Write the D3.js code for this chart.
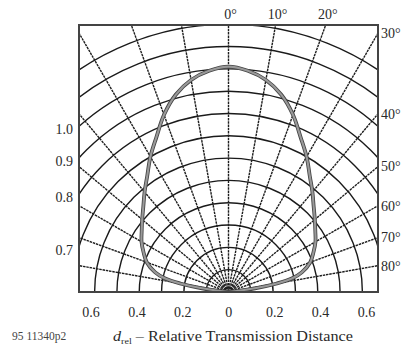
<!DOCTYPE html>
<html><head><meta charset="utf-8">
<script src="https://cdn.jsdelivr.net/npm/d3@7"></script>
<style>
body{margin:0;background:#fff}
svg{display:block}
text{font-family:"Liberation Serif","Times New Roman",serif;fill:#2a2a2a}
</style>
</head><body>
<svg id="c" width="401" height="349"></svg>
<script>
// ---- data ----
const curveAngles = [-84,-82,-80,-78,-75,-70,-65,-60,-55,-50,-45,-40,-35,-30,-25,-20,-15,-10,-5,0,5,10,15,20,25,30,35,40,45,50,55,60,65,70,75,78,80,82,84];
const curveValues = [0,0.12,0.22,0.29,0.34,0.39,0.42,0.45,0.475,0.505,0.54,0.585,0.635,0.70,0.765,0.845,0.915,0.965,0.995,1.01,0.995,0.965,0.915,0.845,0.765,0.70,0.635,0.585,0.54,0.505,0.475,0.45,0.42,0.39,0.34,0.29,0.22,0.12,0];
const radialAngles = [-90,-80,-70,-60,-50,-40,-30,-20,-10,0,10,20,30,40,50,60,70,80,90];
const arcRadii = [0.1,0.2,0.3,0.4,0.5,0.6,0.7,0.8,0.9,1.0,1.1,1.2];
const topAngleLabels = [0,10,20];
const rightAngleLabels = [30,40,50,60,70,80];
const leftValueLabels = [1.0,0.9,0.8,0.7];
const bottomTicks = [-0.6,-0.4,-0.2,0,0.2,0.4,0.6];
const figureCode = "95 11340p2";
const axisTitleMain = "d";
const axisTitleSub = "rel";
const axisTitleRest = " \u2013 Relative Transmission Distance";

// ---- layout ----
const svg = d3.select("#c");
const x = d3.scaleLinear().domain([-0.67,0.67]).range([79,378]);
const y = d3.scaleLinear().domain([0,1.2]).range([292,25]);
const r = d3.scaleLinear().domain([0,1]).range([0, x(1)-x(0)]);
const xLab = d3.scaleLinear().domain([-0.6,0.6]).range([90.5,366]);
const cx = x(0), cy = y(0);
const L = x.range()[0], R = x.range()[1], T = y.range()[1], B = y.range()[0];

svg.append("clipPath").attr("id","box").append("rect")
  .attr("x",L).attr("y",T).attr("width",R-L).attr("height",B-T);

const grid = svg.append("g").attr("clip-path","url(#box)");

// concentric arcs
grid.selectAll("path.arc").data(arcRadii).join("path")
  .attr("class","arc")
  .attr("d", d => { const p = d3.path(); p.arc(cx, cy, r(d), Math.PI, 2*Math.PI); return p.toString(); })
  .attr("fill","none").attr("stroke","#1a1a1a").attr("stroke-width",1.4);

// radial lines
grid.selectAll("line.rad").data(radialAngles).join("line")
  .attr("class","rad")
  .attr("x1",cx).attr("y1",cy)
  .attr("x2", d => cx + r(2)*Math.sin(d*Math.PI/180))
  .attr("y2", d => cy - r(2)*Math.cos(d*Math.PI/180))
  .attr("stroke","#1e1e1e").attr("stroke-width",1.4).attr("stroke-dasharray","2.5,0.8");

// curve
const line = d3.lineRadial()
  .angle((d,i) => curveAngles[i]*Math.PI/180)
  .radius(d => r(d))
  .curve(d3.curveCatmullRom.alpha(0.5));
grid.append("path").datum(curveValues)
  .attr("transform",`translate(${cx},${cy})`)
  .attr("d", line)
  .attr("fill","none").attr("stroke","#444").attr("stroke-width",3.8);
grid.append("path").datum(curveValues)
  .attr("transform",`translate(${cx},${cy})`)
  .attr("d", line)
  .attr("fill","none").attr("stroke","#999").attr("stroke-width",2.1);

// frame
svg.append("rect").attr("x",L).attr("y",T).attr("width",R-L).attr("height",B-T)
  .attr("fill","none").attr("stroke","#444").attr("stroke-width",2);

// top angle labels
svg.selectAll("text.top").data(topAngleLabels).join("text")
  .attr("class","top")
  .attr("x", d => cx + (cy-T)*Math.tan(d*Math.PI/180) + 2)
  .attr("y", T-6)
  .attr("text-anchor","middle").attr("font-size",14)
  .text(d => d + "\u00b0");

// right angle labels
svg.selectAll("text.right").data(rightAngleLabels).join("text")
  .attr("class","right")
  .attr("x", R+3)
  .attr("y", d => cy - (R-cx)/Math.tan(d*Math.PI/180))
  .attr("dy","0.35em").attr("font-size",14)
  .text(d => d + "\u00b0");

// left value labels
svg.selectAll("text.left").data(leftValueLabels).join("text")
  .attr("class","left")
  .attr("x", L-6)
  .attr("y", d => cy - Math.sqrt(Math.max(0, r(d)*r(d) - (cx-L)*(cx-L))) + 3)
  .attr("dy","0.35em").attr("text-anchor","end").attr("font-size",14)
  .text(d => d.toFixed(1));

// bottom axis
const ax = svg.append("g").attr("transform",`translate(0,${B+12})`)
  .call(d3.axisBottom(xLab).tickValues(bottomTicks).tickSize(0).tickPadding(3)
    .tickFormat(d => d === 0 ? "0" : Math.abs(d).toFixed(1)));
ax.select(".domain").remove();
ax.selectAll("text").attr("font-size",14).attr("font-family",null).style("fill","#2a2a2a");

// figure code
svg.append("text").attr("x",12).attr("y",340).attr("font-size",11.5).style("fill","#444")
  .text(figureCode);

// axis title
const t = svg.append("text").attr("x",113).attr("y",341).attr("font-size",14.5)
  .attr("textLength",240).attr("lengthAdjust","spacingAndGlyphs");
t.append("tspan").attr("font-style","italic").text(axisTitleMain);
t.append("tspan").attr("font-size",9).attr("dy",3).text(axisTitleSub);
t.append("tspan").attr("dy",-3).text(axisTitleRest);
</script>
</body></html>
